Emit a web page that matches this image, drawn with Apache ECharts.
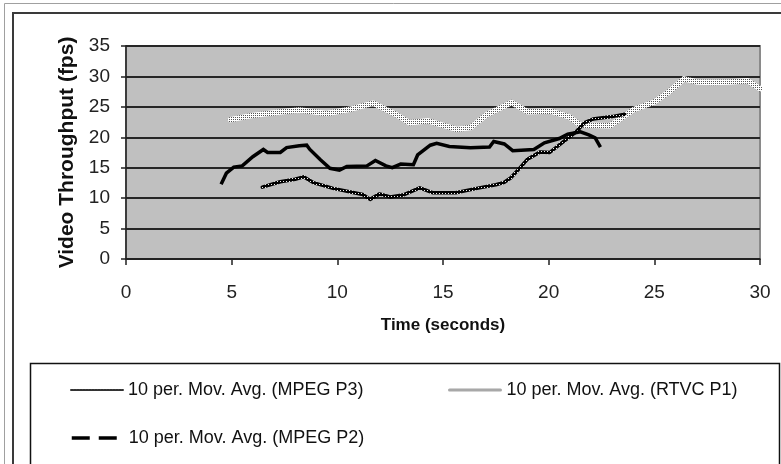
<!DOCTYPE html>
<html>
<head>
<meta charset="utf-8">
<script src="https://cdn.jsdelivr.net/npm/echarts@6/dist/echarts.min.js"></script>
<style>
html,body{margin:0;padding:0;background:#fff;}
#chart{width:781px;height:464px;}
</style>
</head>
<body>
<div id="chart"></div>
<script>
// ---- Data ----
const xTicks = [0, 5, 10, 15, 20, 25, 30];
const yTicks = [0, 5, 10, 15, 20, 25, 30, 35];

const seriesNames = [
  '10 per. Mov. Avg. (MPEG P3)',
  '10 per. Mov. Avg. (RTVC P1)',
  '10 per. Mov. Avg. (MPEG P2)'
];

const p3Time   = [6.45, 7.3, 8.0, 8.4, 8.9, 9.8, 10.8, 11.2, 11.55, 12.0, 12.5, 13.1, 13.9, 14.5, 15.6, 16.6, 17.5, 17.9, 18.2, 18.6, 19.0, 19.6, 20.05, 20.7, 21.3, 21.7, 22.1, 23.0, 23.6];
const p3Values = [11.8, 12.7, 13.1, 13.5, 12.5, 11.6, 10.9, 10.6, 9.8, 10.7, 10.2, 10.5, 11.7, 10.9, 10.9, 11.6, 12.2, 12.6, 13.3, 14.8, 16.4, 17.6, 17.5, 19.3, 20.9, 22.4, 23.0, 23.4, 23.8];

const p1Time   = [4.95, 6.0, 7.4, 8.2, 9.5, 10.6, 11.7, 12.8, 13.4, 14.3, 15.65, 16.3, 17.1, 18.25, 19.0, 20.1, 21.0, 21.5, 22.9, 24.0, 25.0, 25.7, 26.4, 27.0, 27.8, 28.6, 29.4, 30.0];
const p1Values = [22.9, 23.6, 24.2, 24.5, 23.9, 24.6, 25.6, 23.7, 22.4, 22.7, 21.3, 21.6, 23.8, 25.7, 24.2, 24.3, 23.3, 22.0, 21.9, 24.5, 25.8, 27.5, 29.6, 29.1, 29.0, 29.1, 29.3, 28.0];

const p2Time   = [4.5, 4.75, 5.1, 5.5, 6.0, 6.5, 6.7, 7.3, 7.6, 8.2, 8.55, 8.7, 9.2, 9.65, 10.1, 10.45, 11.4, 11.8, 12.3, 12.6, 13.0, 13.6, 13.8, 14.4, 14.7, 15.3, 16.3, 17.2, 17.4, 17.9, 18.3, 19.3, 19.8, 20.5, 20.9, 21.5, 21.9, 22.2, 22.45];
const p2Values = [12.3, 14.1, 15.1, 15.3, 16.8, 18.0, 17.5, 17.5, 18.3, 18.6, 18.7, 18.0, 16.3, 14.9, 14.6, 15.2, 15.3, 16.2, 15.3, 15.0, 15.6, 15.5, 17.1, 18.7, 19.0, 18.5, 18.3, 18.4, 19.3, 18.9, 17.8, 18.0, 19.1, 19.8, 20.5, 20.9, 20.4, 19.9, 18.4];

function pairs(xs, ys) { return xs.map((x, i) => [x, ys[i]]); }

function makePattern(cells) {
  const n = cells.length;
  const c = document.createElement('canvas');
  c.width = n; c.height = n;
  const ctx = c.getContext('2d');
  for (let r = 0; r < n; r++) for (let k = 0; k < n; k++) {
    ctx.fillStyle = cells[r][k];
    ctx.fillRect(k, r, 1, 1);
  }
  return { image: c, repeat: 'repeat' };
}

const rtvcPattern = makePattern([['#ffffff', '#ffffff'], ['#ffffff', '#555555']]);
const p3Pattern = makePattern([
  ['#000000', '#000000', '#000000'],
  ['#000000', '#f0f0f0', '#000000'],
  ['#000000', '#000000', '#000000']
]);

const FONT = '"Liberation Sans", Arial, sans-serif';

const chart = echarts.init(document.getElementById('chart'), null, { renderer: 'canvas' });

const hiddenSymbol = { color: 'rgba(0,0,0,0)', borderWidth: 0, borderColor: 'rgba(0,0,0,0)' };

const legendBase = {
  orient: 'horizontal',
  itemWidth: 52,
  itemHeight: 14,
  padding: 0,
  textStyle: { fontFamily: FONT, fontSize: 18, color: '#111' },
  selectedMode: false
};

chart.setOption({
  animation: false,
  backgroundColor: '#ffffff',
  graphic: [
    { type: 'rect', z: -10, shape: { x: 4.5, y: 3.5, width: 820, height: 520 }, style: { fill: '#fff', stroke: '#a0a0a0', lineWidth: 1 } },
    { type: 'rect', z: -9, shape: { x: 13, y: 13, width: 820, height: 520 }, style: { fill: '#fff', stroke: '#3a3a3a', lineWidth: 2 } },
    { type: 'rect', z: -8, shape: { x: 30.5, y: 363.5, width: 749, height: 200 }, style: { fill: '#fff', stroke: '#111', lineWidth: 1.5 } }
  ],
  grid: {
    left: 126, right: 21, top: 46, bottom: 205,
    show: true, backgroundColor: '#c0c0c0', borderColor: '#8a8a8a', borderWidth: 2
  },
  xAxis: {
    type: 'value', min: xTicks[0], max: xTicks[xTicks.length - 1], interval: 5,
    name: 'Time (seconds)', nameLocation: 'middle', nameGap: 58,
    nameTextStyle: { fontFamily: FONT, fontSize: 17, fontWeight: 'bold', color: '#111' },
    axisLine: { show: true, onZero: false, lineStyle: { color: '#222', width: 1.5 } },
    axisTick: { show: true, length: 6, lineStyle: { color: '#222', width: 1.5 } },
    axisLabel: { fontFamily: FONT, fontSize: 19, color: '#222', margin: 24 },
    splitLine: { show: false }
  },
  yAxis: {
    type: 'value', min: yTicks[0], max: yTicks[yTicks.length - 1], interval: 5,
    name: 'Video Throughput (fps)', nameLocation: 'middle', nameGap: 45,
    nameTextStyle: { fontFamily: FONT, fontSize: 21, fontWeight: 'bold', color: '#111' },
    axisLine: { show: true, lineStyle: { color: '#222', width: 1.5 } },
    axisTick: { show: true, length: 5, lineStyle: { color: '#222', width: 1.5 } },
    axisLabel: { fontFamily: FONT, fontSize: 19, color: '#222', margin: 16 },
    splitLine: { show: true, lineStyle: { color: '#262626', width: 2 } }
  },
  legend: [
    Object.assign({}, legendBase, { left: 70, top: 381,
      data: [{ name: seriesNames[0], itemStyle: hiddenSymbol, lineStyle: { color: '#333', width: 2, type: [2, 1] } }] }),
    Object.assign({}, legendBase, { left: 448, top: 381,
      data: [{ name: seriesNames[1], itemStyle: hiddenSymbol, lineStyle: { color: '#a8a8a8', width: 3, type: [1, 1] } }] }),
    Object.assign({}, legendBase, { left: 70, top: 429,
      data: [{ name: seriesNames[2], itemStyle: hiddenSymbol, lineStyle: { color: '#000', width: 3.5, type: [18, 9] } }] })
  ],
  series: [
    {
      name: seriesNames[1], type: 'line', symbol: 'none', showSymbol: false, z: 2,
      data: pairs(p1Time, p1Values),
      lineStyle: { color: rtvcPattern, width: 5.5, join: 'round', cap: 'round' },
      itemStyle: { color: '#aaa' }
    },
    {
      name: seriesNames[0], type: 'line', symbol: 'none', showSymbol: false, z: 3,
      data: pairs(p3Time, p3Values),
      lineStyle: { color: p3Pattern, width: 3.5, join: 'round', cap: 'round' },
      itemStyle: { color: '#333' }
    },
    {
      name: seriesNames[2], type: 'line', symbol: 'none', showSymbol: false, z: 4,
      data: pairs(p2Time, p2Values),
      lineStyle: { color: '#000', width: 3.5, join: 'miter' },
      itemStyle: { color: '#000' }
    }
  ]
});
</script>
</body>
</html>
